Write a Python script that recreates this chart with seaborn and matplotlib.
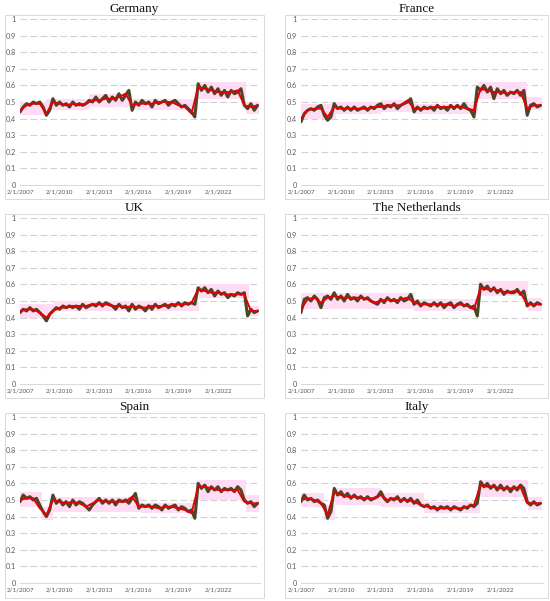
import numpy as np
import pandas as pd
import matplotlib
matplotlib.use("Agg")
import matplotlib.pyplot as plt
import seaborn as sns
from matplotlib.patches import Rectangle
from matplotlib.ticker import FuncFormatter

# quarterly observed series, half-yearly fitted series, step bands
quarters = pd.date_range("2007-01-01", "2025-01-01", freq="QS")
halves = pd.date_range("2007-01-01", "2025-01-01", freq="6MS")

germany_actual = [0.44, 0.47, 0.49, 0.48, 0.50, 0.49, 0.50, 0.47,
                  0.42, 0.45, 0.52, 0.48, 0.50, 0.48, 0.49, 0.47,
                  0.50, 0.48, 0.49, 0.48, 0.49, 0.51, 0.50, 0.53,
                  0.50, 0.52, 0.54, 0.50, 0.53, 0.51, 0.55, 0.51,
                  0.54, 0.57, 0.45, 0.50, 0.48, 0.51, 0.49, 0.50,
                  0.47, 0.51, 0.49, 0.50, 0.51, 0.48, 0.50, 0.51,
                  0.49, 0.47, 0.48, 0.46, 0.44, 0.41, 0.61, 0.57,
                  0.60, 0.56, 0.59, 0.55, 0.58, 0.54, 0.57, 0.53,
                  0.57, 0.55, 0.56, 0.58, 0.48, 0.46, 0.49, 0.45,
                  0.48]
germany_model = [0.45, 0.48, 0.49, 0.49, 0.43, 0.50, 0.49, 0.48, 0.49, 0.48,
                 0.49, 0.51, 0.51, 0.52, 0.52, 0.53, 0.55, 0.48, 0.49, 0.49,
                 0.49, 0.50, 0.50, 0.50, 0.48, 0.47, 0.43, 0.59, 0.58, 0.57,
                 0.56, 0.56, 0.56, 0.57, 0.48, 0.47, 0.48]
germany_band_start = ["2007-01-01", "2009-01-01", "2012-04-01", "2015-07-01", "2020-06-15", "2024-03-01"]
germany_band_lo = [0.42, 0.45, 0.47, 0.45, 0.52, 0.43]
germany_band_hi = [0.50, 0.52, 0.55, 0.52, 0.62, 0.50]

france_actual = [0.38, 0.43, 0.45, 0.46, 0.45, 0.47, 0.48, 0.42,
                 0.39, 0.41, 0.49, 0.46, 0.47, 0.45, 0.47, 0.45,
                 0.47, 0.45, 0.46, 0.47, 0.45, 0.47, 0.46, 0.48,
                 0.49, 0.46, 0.48, 0.47, 0.49, 0.46, 0.48, 0.49,
                 0.50, 0.52, 0.44, 0.47, 0.45, 0.47, 0.46, 0.47,
                 0.45, 0.48, 0.46, 0.47, 0.45, 0.48, 0.46, 0.48,
                 0.46, 0.49, 0.46, 0.45, 0.41, 0.59, 0.57, 0.60,
                 0.56, 0.59, 0.52, 0.58, 0.55, 0.57, 0.54, 0.56,
                 0.55, 0.57, 0.54, 0.57, 0.42, 0.48, 0.49, 0.47,
                 0.48]
france_model = [0.40, 0.45, 0.46, 0.46, 0.41, 0.47, 0.46, 0.46, 0.46, 0.46,
                0.46, 0.47, 0.47, 0.48, 0.48, 0.48, 0.51, 0.46, 0.46, 0.46,
                0.47, 0.47, 0.47, 0.47, 0.47, 0.46, 0.45, 0.58, 0.57, 0.56,
                0.56, 0.55, 0.56, 0.56, 0.46, 0.48, 0.48]
france_band_start = ["2007-01-01", "2009-09-01", "2013-01-01", "2015-07-01", "2020-04-15", "2024-01-01"]
france_band_lo = [0.40, 0.43, 0.44, 0.43, 0.52, 0.45]
france_band_hi = [0.49, 0.50, 0.51, 0.49, 0.62, 0.53]

uk_actual = [0.43, 0.45, 0.44, 0.46, 0.44, 0.45, 0.43, 0.41,
             0.38, 0.42, 0.44, 0.46, 0.45, 0.47, 0.46, 0.47,
             0.46, 0.47, 0.45, 0.48, 0.46, 0.47, 0.48, 0.47,
             0.49, 0.47, 0.49, 0.48, 0.47, 0.45, 0.48, 0.46,
             0.47, 0.44, 0.48, 0.45, 0.47, 0.46, 0.44, 0.47,
             0.45, 0.48, 0.46, 0.47, 0.48, 0.46, 0.48, 0.47,
             0.49, 0.47, 0.49, 0.48, 0.49, 0.48, 0.58, 0.56,
             0.58, 0.55, 0.57, 0.53, 0.56, 0.54, 0.55, 0.52,
             0.54, 0.53, 0.55, 0.54, 0.55, 0.41, 0.45, 0.43,
             0.44]
uk_model = [0.44, 0.45, 0.45, 0.43, 0.40, 0.44, 0.46, 0.46, 0.47, 0.47,
            0.47, 0.48, 0.48, 0.48, 0.47, 0.47, 0.46, 0.47, 0.46, 0.46,
            0.47, 0.47, 0.47, 0.48, 0.48, 0.48, 0.49, 0.57, 0.56, 0.55,
            0.55, 0.54, 0.54, 0.54, 0.54, 0.44, 0.44]
uk_band_start = ["2007-01-01", "2009-08-01", "2020-08-01", "2024-05-01"]
uk_band_lo = [0.40, 0.44, 0.52, 0.41]
uk_band_hi = [0.48, 0.50, 0.60, 0.47]

nl_actual = [0.43, 0.51, 0.52, 0.50, 0.53, 0.51, 0.46, 0.52,
             0.53, 0.51, 0.55, 0.51, 0.53, 0.50, 0.54, 0.51,
             0.52, 0.50, 0.53, 0.51, 0.52, 0.50, 0.49, 0.48,
             0.51, 0.49, 0.52, 0.50, 0.51, 0.49, 0.52, 0.50,
             0.51, 0.54, 0.48, 0.50, 0.47, 0.49, 0.48, 0.47,
             0.49, 0.47, 0.49, 0.46, 0.48, 0.49, 0.46, 0.48,
             0.49, 0.47, 0.48, 0.46, 0.47, 0.41, 0.60, 0.57,
             0.59, 0.56, 0.58, 0.55, 0.57, 0.54, 0.56, 0.55,
             0.55, 0.57, 0.54, 0.56, 0.47, 0.49, 0.47, 0.49,
             0.48]
nl_model = [0.45, 0.51, 0.52, 0.49, 0.52, 0.53, 0.52, 0.52, 0.52, 0.52,
            0.51, 0.49, 0.50, 0.51, 0.50, 0.51, 0.52, 0.49, 0.48, 0.48,
            0.48, 0.48, 0.48, 0.47, 0.48, 0.47, 0.45, 0.58, 0.57, 0.57,
            0.56, 0.55, 0.56, 0.55, 0.48, 0.48, 0.48]
nl_band_start = ["2007-01-01", "2015-07-01", "2020-05-01", "2024-02-01"]
nl_band_lo = [0.45, 0.44, 0.53, 0.44]
nl_band_hi = [0.55, 0.51, 0.62, 0.52]

spain_actual = [0.49, 0.53, 0.51, 0.52, 0.50, 0.51, 0.47, 0.43,
                0.40, 0.44, 0.53, 0.48, 0.50, 0.47, 0.49, 0.46,
                0.50, 0.47, 0.49, 0.48, 0.46, 0.44, 0.47, 0.49,
                0.51, 0.48, 0.50, 0.48, 0.50, 0.47, 0.50, 0.49,
                0.50, 0.48, 0.51, 0.54, 0.45, 0.47, 0.46, 0.47,
                0.45, 0.47, 0.46, 0.44, 0.47, 0.45, 0.46, 0.47,
                0.44, 0.46, 0.45, 0.43, 0.44, 0.39, 0.60, 0.57,
                0.59, 0.55, 0.58, 0.56, 0.58, 0.55, 0.57, 0.56,
                0.57, 0.55, 0.58, 0.56, 0.50, 0.48, 0.49, 0.46,
                0.48]
spain_model = [0.50, 0.51, 0.51, 0.45, 0.41, 0.50, 0.49, 0.48, 0.49, 0.48,
               0.46, 0.48, 0.50, 0.49, 0.49, 0.49, 0.49, 0.52, 0.46, 0.46,
               0.46, 0.45, 0.46, 0.46, 0.45, 0.44, 0.42, 0.58, 0.58, 0.57,
               0.56, 0.56, 0.56, 0.56, 0.49, 0.48, 0.48]
spain_band_start = ["2007-01-01", "2008-09-01", "2009-07-01", "2016-03-01", "2020-06-15", "2024-03-01"]
spain_band_lo = [0.46, 0.38, 0.43, 0.42, 0.50, 0.43]
spain_band_hi = [0.55, 0.46, 0.52, 0.48, 0.62, 0.53]

italy_actual = [0.49, 0.53, 0.50, 0.51, 0.49, 0.50, 0.48, 0.47,
                0.39, 0.43, 0.57, 0.53, 0.55, 0.52, 0.54, 0.51,
                0.53, 0.51, 0.52, 0.50, 0.52, 0.50, 0.51, 0.52,
                0.55, 0.51, 0.49, 0.51, 0.50, 0.52, 0.49, 0.51,
                0.49, 0.51, 0.48, 0.50, 0.47, 0.46, 0.47, 0.45,
                0.46, 0.44, 0.46, 0.45, 0.46, 0.44, 0.46, 0.45,
                0.44, 0.46, 0.45, 0.47, 0.46, 0.48, 0.61, 0.58,
                0.60, 0.57, 0.59, 0.56, 0.59, 0.56, 0.58, 0.55,
                0.58, 0.56, 0.59, 0.57, 0.49, 0.47, 0.49, 0.47,
                0.48]
italy_model = [0.50, 0.51, 0.50, 0.48, 0.41, 0.55, 0.53, 0.52, 0.52, 0.51,
               0.51, 0.51, 0.53, 0.50, 0.51, 0.50, 0.50, 0.49, 0.47, 0.46,
               0.45, 0.45, 0.45, 0.45, 0.45, 0.46, 0.47, 0.59, 0.58, 0.58,
               0.57, 0.57, 0.57, 0.58, 0.48, 0.48, 0.48]
italy_band_start = ["2007-01-01", "2008-10-01", "2009-08-01", "2013-01-01", "2016-04-01", "2020-06-15", "2024-02-01"]
italy_band_lo = [0.46, 0.38, 0.47, 0.46, 0.42, 0.52, 0.44]
italy_band_hi = [0.54, 0.47, 0.57, 0.54, 0.49, 0.62, 0.52]

band_end = "2025-02-01"
tick_years = [2007, 2010, 2013, 2016, 2019, 2022]
y_ticks = [0, 0.1, 0.2, 0.3, 0.4, 0.5, 0.6, 0.7, 0.8, 0.9, 1.0]

panels = [
    ("Germany", germany_actual, germany_model, germany_band_start, germany_band_lo, germany_band_hi),
    ("France", france_actual, france_model, france_band_start, france_band_lo, france_band_hi),
    ("UK", uk_actual, uk_model, uk_band_start, uk_band_lo, uk_band_hi),
    ("The Netherlands", nl_actual, nl_model, nl_band_start, nl_band_lo, nl_band_hi),
    ("Spain", spain_actual, spain_model, spain_band_start, spain_band_lo, spain_band_hi),
    ("Italy", italy_actual, italy_model, italy_band_start, italy_band_lo, italy_band_hi),
]

sns.set_theme(style="white")
plt.rcParams["font.family"] = ["Lato", "DejaVu Sans"]

W, H = 550, 601
fig = plt.figure(figsize=(W / 100, H / 100), dpi=100)

box_x = [(5, 264), (285, 548)]
plot_x = [(20, 260), (301, 543)]
box_top = [15, 214, 413]
box_bot = [199, 398, 598]

for k, (name, actual, model, bstart, blo, bhi) in enumerate(panels):
    row, col = divmod(k, 2)
    bx0, bx1 = box_x[col]
    px0, px1 = plot_x[col]
    top = box_top[row]
    y1 = top + 4
    y0 = top + 170

    # chart border
    fig.patches.append(Rectangle((bx0 / W, 1 - box_bot[row] / H), (bx1 - bx0) / W,
                                 (box_bot[row] - top) / H, transform=fig.transFigure,
                                 fill=False, edgecolor="#d9d9d9", linewidth=0.7))
    fig.text((bx0 + bx1) / 2 / W, 1 - (top - 6) / H, name, ha="center", va="center",
             fontsize=9.5, family=["Liberation Serif", "DejaVu Serif"], color="#111111")

    ax = fig.add_axes([px0 / W, 1 - y0 / H, (px1 - px0) / W, (y0 - y1) / H])

    bx = pd.to_datetime(bstart + [band_end])
    ax.fill_between(bx, blo + [blo[-1]], bhi + [bhi[-1]], step="post",
                    color="#ffdcf4", linewidth=0, zorder=1)
    sns.lineplot(x=quarters, y=actual, ax=ax, color="#4b4628", linewidth=2.2, zorder=2)
    sns.lineplot(x=halves, y=model, ax=ax, color="#e60000", linewidth=1.4, zorder=3)

    ax.set_ylim(0, 1)
    ax.set_xlim(pd.Timestamp("2007-01-01"), pd.Timestamp("2025-03-10"))
    ax.set_yticks(y_ticks)
    ax.yaxis.set_major_formatter(FuncFormatter(lambda v, p: "{:g}".format(round(v, 1))))
    ax.set_xticks([pd.Timestamp(f"{y}-01-02") for y in tick_years])
    ax.set_xticklabels([f"2/1/{y}" for y in tick_years])
    ax.tick_params(axis="y", length=0, labelsize=5.2, colors="#595959", pad=3)
    ax.tick_params(axis="x", length=0, labelsize=4.5, colors="#595959", pad=3.5)
    for yv in y_ticks[1:]:
        ax.axhline(yv, color="#d0d0d0", linewidth=0.8, linestyle=(0, (6, 3)), zorder=0)
    for s in ["top", "right", "left"]:
        ax.spines[s].set_visible(False)
    ax.spines["bottom"].set_color("#d9d9d9")
    ax.spines["bottom"].set_linewidth(0.7)
    ax.set_xlabel("")
    ax.set_ylabel("")
    ax.set_facecolor("none")

fig.savefig("out.png", dpi=100)
